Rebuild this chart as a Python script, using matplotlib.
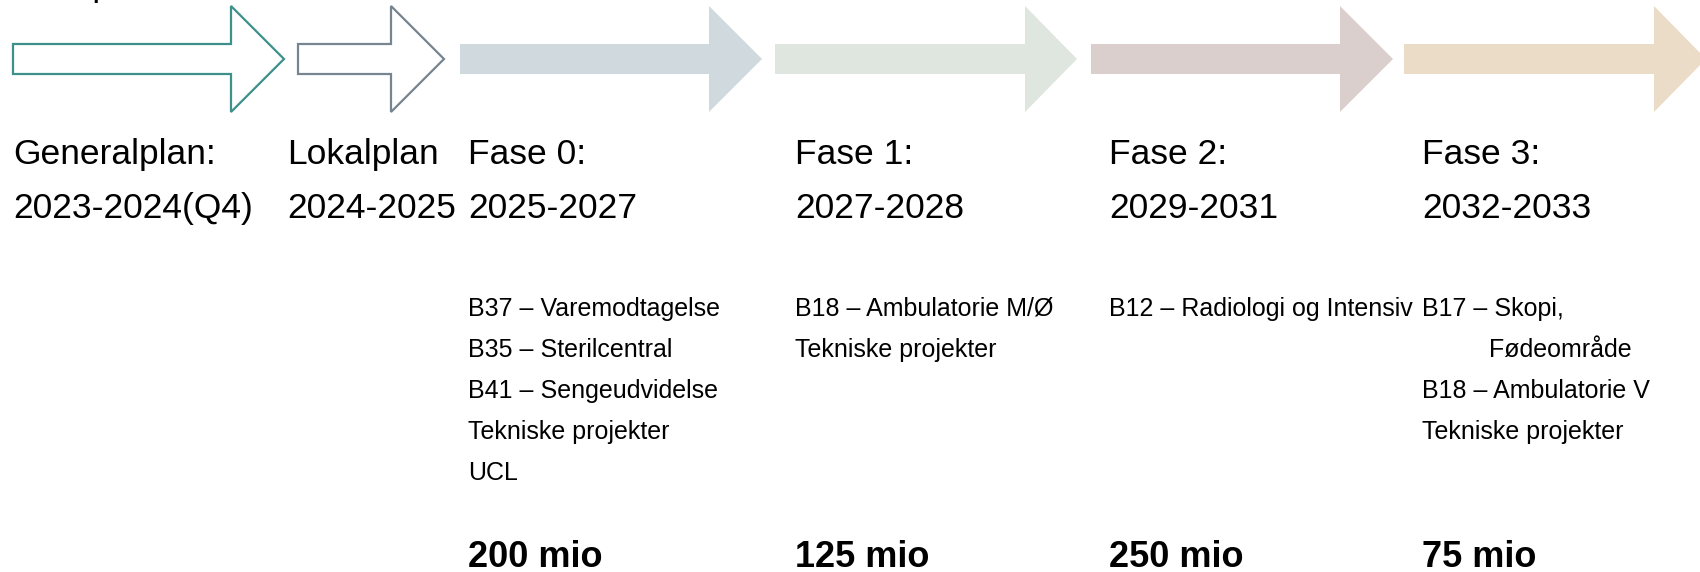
import matplotlib
matplotlib.use("Agg")
import matplotlib.pyplot as plt
from matplotlib.patches import Polygon
from matplotlib import font_manager

# ------------------------------------------------------------------
# Data
# ------------------------------------------------------------------
stage_titles = ["Generalplan:", "Lokalplan", "Fase 0:", "Fase 1:", "Fase 2:", "Fase 3:"]
stage_periods = ["2023-2024(Q4)", "2024-2025", "2025-2027", "2027-2028", "2029-2031", "2032-2033"]

phase_items = [
    ["B37 – Varemodtagelse", "B35 – Sterilcentral", "B41 – Sengeudvidelse",
     "Tekniske projekter", "UCL"],
    ["B18 – Ambulatorie M/Ø", "Tekniske projekter"],
    ["B12 – Radiologi og Intensiv"],
    ["B17 – Skopi,", "Fødeområde", "B18 – Ambulatorie V", "Tekniske projekter"],
]
phase_indent = [
    [0, 0, 0, 0, 0],
    [0, 0],
    [0],
    [0, 1, 0, 0],
]
phase_budget = ["200 mio", "125 mio", "250 mio", "75 mio"]

# arrow geometry (pixels): left edge, start of head, tip
arrow_left = [13, 298, 460, 775, 1091, 1404]
arrow_head = [231, 391, 709, 1025, 1340, 1654]
arrow_tip = [284, 444, 762, 1077, 1393, 1706]
arrow_fill = ["white", "white", "#D0D9DE", "#DFE6DF", "#DBCFCE", "#EBDCC8"]
arrow_edge = ["#3E918A", "#76858F", "none", "none", "none", "none"]

text_x = [13, 287, 468, 795, 1109, 1422]

# a narrow face like the original if one exists, else Arial-metric sans
names = {f.name for f in font_manager.fontManager.ttflist}
FONT = "Liberation Sans"
for cand in ["Liberation Sans Narrow", "Arial Narrow", "DejaVu Sans Condensed"]:
    if cand in names:
        FONT = cand
        break
narrow = FONT != "Liberation Sans"
fs_head = 31 if narrow else 25.5
fs_item = 21 if narrow else 18
fs_budget = 31 if narrow else 26

W, H = 1700, 572
fig = plt.figure(figsize=(W / 100, H / 100), dpi=100)
ax = fig.add_axes([0, 0, 1, 1])
ax.set_xlim(0, W)
ax.set_ylim(H, 0)
ax.axis("off")

# shaft and head half-heights around the centre line
yc, shaft, head = 59, 15, 53
for xl, xh, xt, fc, ec in zip(arrow_left, arrow_head, arrow_tip, arrow_fill, arrow_edge):
    pts = [(xl, yc - shaft), (xh, yc - shaft), (xh, yc - head), (xt, yc),
           (xh, yc + head), (xh, yc + shaft), (xl, yc + shaft)]
    ax.add_patch(Polygon(pts, closed=True, facecolor=fc, edgecolor=ec,
                         lw=1.6 if ec != "none" else 0, joinstyle="miter"))

# cut-off title at the very top
ax.text(28, -4, "Tidsplan", fontsize=25, family=FONT, va="baseline", ha="left")

for x, t, p in zip(text_x, stage_titles, stage_periods):
    ax.text(x, 164, t, fontsize=fs_head, family=FONT, va="baseline", ha="left")
    ax.text(x, 218, p, fontsize=fs_head, family=FONT, va="baseline", ha="left")

for x, items, ind, b in zip(text_x[2:], phase_items, phase_indent, phase_budget):
    for i, (it, k) in enumerate(zip(items, ind)):
        ax.text(x + 67 * k, 316 + i * 41, it, fontsize=fs_item, family=FONT,
                va="baseline", ha="left")
    ax.text(x, 567, b, fontsize=fs_budget, family=FONT, fontweight="bold",
            va="baseline", ha="left")

fig.savefig("out.png", dpi=100)
